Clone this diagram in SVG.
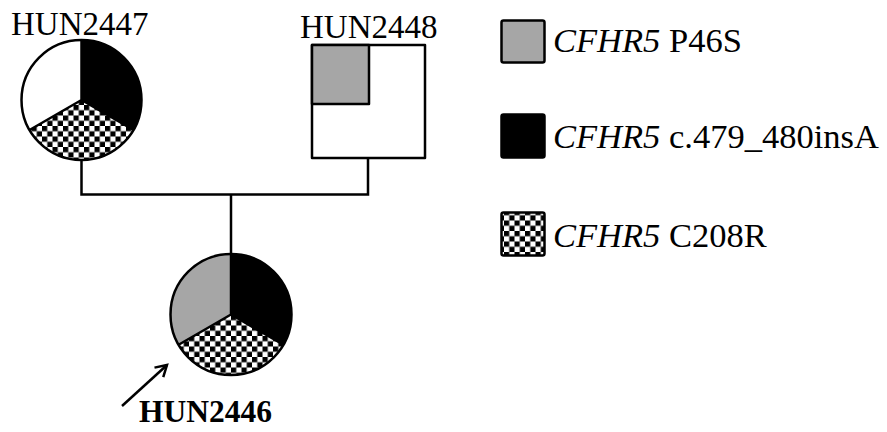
<svg xmlns="http://www.w3.org/2000/svg" width="887" height="432" viewBox="0 0 887 432">
  <style>
    .lbl { font-family: "Liberation Serif", "Times New Roman", serif; font-size: 33px; fill: #000; }
    .leg { font-size: 34.5px; }
    .bold { font-weight: bold; font-size: 31.5px; }
    .it { font-style: italic; }
    .edge { stroke: #000; stroke-width: 2.5; fill: none; }
    .outline { stroke: #000; stroke-width: 2.5; stroke-linejoin: round; }
    .gray { fill: #a6a6a6; }
    .black { fill: #000; }
    .white { fill: #fff; }
    .check { fill: url(#checker); }
  </style>
  <defs>
    <pattern id="checker" patternUnits="userSpaceOnUse" width="10.5" height="10.5">
      <rect x="0" y="0" width="10.5" height="10.5" fill="#fff"/>
      <rect x="0" y="0" width="5.25" height="5.25" fill="#000"/>
      <rect x="5.25" y="5.25" width="5.25" height="5.25" fill="#000"/>
    </pattern>
    <marker id="openArrow" markerWidth="16" markerHeight="16" refX="12" refY="8" orient="auto" markerUnits="userSpaceOnUse">
      <path d="M1,1.5 L12,8 L1,14.5" fill="none" stroke="#000" stroke-width="2.5"/>
    </marker>
  </defs>

  <g id="connectors">
    <path class="edge" d="M81.5,160 V194.5 H368 V158"/>
    <path class="edge" d="M231,194.5 V254"/>
    <line class="edge" x1="122" y1="406" x2="167" y2="365" marker-end="url(#openArrow)"/>
  </g>

  <g id="HUN2447">
    <text class="lbl" x="11" y="35">HUN2447</text>
    <path class="white" d="M81.5,100 L81.5,40 A60,60 0 0 0 29.5,130 Z"/>
    <path class="black" d="M81.5,100 L81.5,40 A60,60 0 0 1 133.5,130 Z"/>
    <path class="check" d="M81.5,100 L133.5,130 A60,60 0 0 1 29.5,130 Z"/>
    <path class="edge" d="M81.5,100 L81.5,40 M81.5,100 L133.5,130 M81.5,100 L29.5,130" stroke-width="2"/>
    <circle cx="81.5" cy="100" r="60" class="edge" stroke-width="2.5"/>
  </g>

  <g id="HUN2448">
    <text class="lbl" x="300" y="38">HUN2448</text>
    <rect x="312" y="45" width="113" height="113" class="white outline" stroke-width="3"/>
    <rect x="312" y="45" width="57" height="59" class="gray outline" stroke-width="3"/>
  </g>

  <g id="HUN2446">
    <path class="gray" d="M231,314.5 L231,254 A60.5,60.5 0 0 0 178.6,344.75 Z"/>
    <path class="black" d="M231,314.5 L231,254 A60.5,60.5 0 0 1 283.4,344.75 Z"/>
    <path class="check" d="M231,314.5 L283.4,344.75 A60.5,60.5 0 0 1 178.6,344.75 Z"/>
    <path class="edge" d="M231,314.5 L231,254 M231,314.5 L283.4,344.75 M231,314.5 L178.6,344.75" stroke-width="2"/>
    <circle cx="231" cy="314.5" r="60.5" class="edge" stroke-width="2.5"/>
    <text class="lbl bold" x="139" y="422">HUN2446</text>
  </g>

  <g id="legend">
    <g id="legend-p46s">
      <rect x="501.5" y="20.5" width="43" height="42" rx="2" class="gray outline" stroke-width="3"/>
      <text class="lbl leg" x="553" y="52"><tspan class="it">CFHR5</tspan> P46S</text>
    </g>
    <g id="legend-ins">
      <rect x="501.5" y="114.5" width="43" height="43" rx="2" class="black outline" stroke-width="3"/>
      <text class="lbl leg" x="553" y="148"><tspan class="it">CFHR5</tspan> c.479_480insA</text>
    </g>
    <g id="legend-c208r">
      <rect x="501.5" y="212.5" width="43" height="43" rx="2" class="check outline" stroke-width="3"/>
      <text class="lbl leg" x="553" y="247"><tspan class="it">CFHR5</tspan> C208R</text>
    </g>
  </g>
</svg>
